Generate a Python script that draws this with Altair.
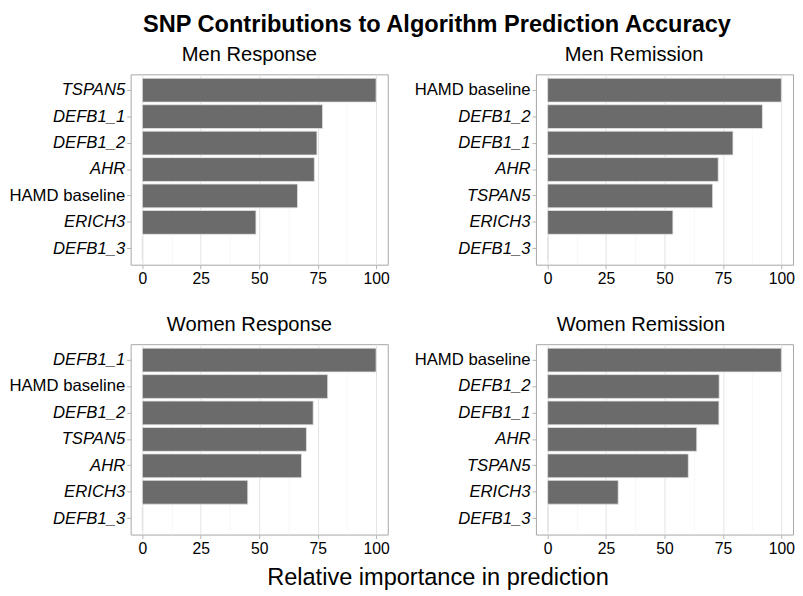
import altair as alt
import pandas as pd

FONT = "Arial"

main_title = "SNP Contributions to Algorithm Prediction Accuracy"
x_title = "Relative importance in prediction"

men_resp_title = "Men Response"
men_resp_labels = ["TSPAN5", "DEFB1_1", "DEFB1_2", "AHR", "HAMD baseline", "ERICH3", "DEFB1_3"]
men_resp_values = [100, 77.1, 74.7, 73.6, 66.4, 48.6, 0]

men_rem_title = "Men Remission"
men_rem_labels = ["HAMD baseline", "DEFB1_2", "DEFB1_1", "AHR", "TSPAN5", "ERICH3", "DEFB1_3"]
men_rem_values = [100, 91.9, 79.3, 73.0, 70.6, 53.6, 0]

women_resp_title = "Women Response"
women_resp_labels = ["DEFB1_1", "HAMD baseline", "DEFB1_2", "TSPAN5", "AHR", "ERICH3", "DEFB1_3"]
women_resp_values = [100, 79.3, 73.1, 70.2, 68.1, 45.1, 0]

women_rem_title = "Women Remission"
women_rem_labels = ["HAMD baseline", "DEFB1_2", "DEFB1_1", "AHR", "TSPAN5", "ERICH3", "DEFB1_3"]
women_rem_values = [100, 73.4, 73.3, 63.8, 60.2, 30.2, 0]

x_grid_values = [0, 12.5, 25, 37.5, 50, 62.5, 75, 87.5, 100]


def panel(title, labels, values, dx):
    df = pd.DataFrame({"feature": labels, "importance": values})
    minor = "datum.value % 25 !== 0"
    return (
        alt.Chart(df)
        .mark_bar(color="#6b6b6b", stroke="#e4e4e4", strokeWidth=0.8)
        .encode(
            x=alt.X(
                "importance:Q",
                scale=alt.Scale(domain=[-5, 105], nice=False),
                axis=alt.Axis(
                    title=None,
                    values=x_grid_values,
                    labelExpr="datum.value % 25 === 0 ? datum.label : ''",
                    labelFontSize=16,
                    gridColor={"condition": {"test": minor, "value": "#F1F1F1"}, "value": "#E2E2E2"},
                    gridWidth={"condition": {"test": minor, "value": 0.6}, "value": 1},
                    tickOpacity={"condition": {"test": minor, "value": 0}, "value": 1},
                ),
            ),
            y=alt.Y(
                "feature:N",
                sort=labels,
                scale=alt.Scale(paddingInner=0.1, paddingOuter=0.15),
                axis=alt.Axis(
                    title=None,
                    labelFontSize=17,
                    gridColor="#E2E2E2",
                    labelFontStyle={
                        "condition": {"test": "datum.value === 'HAMD baseline'", "value": "normal"},
                        "value": "italic",
                    },
                ),
            ),
            tooltip=["feature:N", "importance:Q"],
        )
        .properties(
            width=262,
            height=194,
            title=alt.TitleParams(
                title, fontSize=20.5, fontWeight="normal", anchor="middle",
                frame="group", dx=dx, offset=9, font=FONT, color="black",
            ),
        )
    )


p1 = panel(men_resp_title, men_resp_labels, men_resp_values, -10)
p2 = panel(men_rem_title, men_rem_labels, men_rem_values, -31)
p3 = panel(women_resp_title, women_resp_labels, women_resp_values, -10)
p4 = panel(women_rem_title, women_rem_labels, women_rem_values, -24)

row1 = alt.hconcat(p1, p2, spacing=24)
row2 = alt.hconcat(p3, p4, spacing=24)

inner = alt.vconcat(row1, row2, spacing=28).properties(
    title=alt.TitleParams(
        x_title, orient="bottom", fontSize=24, fontWeight="normal",
        anchor="middle", dx=37, offset=10, font=FONT, color="black",
    )
)

chart = (
    alt.vconcat(inner)
    .properties(
        title=alt.TitleParams(
            main_title, fontSize=24, fontWeight="bold", anchor="middle",
            dx=36, offset=8, font=FONT, color="black",
        ),
        background="white",
        padding=0,
    )
    .configure_view(stroke="#A6A6A6", strokeWidth=1)
    .configure_axis(
        labelFont=FONT,
        labelColor="black",
        tickColor="#B3B3B3",
        tickSize=4,
        tickWidth=1,
        domain=False,
        labelPadding=2,
    )
    .configure_title(font=FONT)
)

chart.save("out.html", embed_options={"renderer": "svg", "actions": False})
